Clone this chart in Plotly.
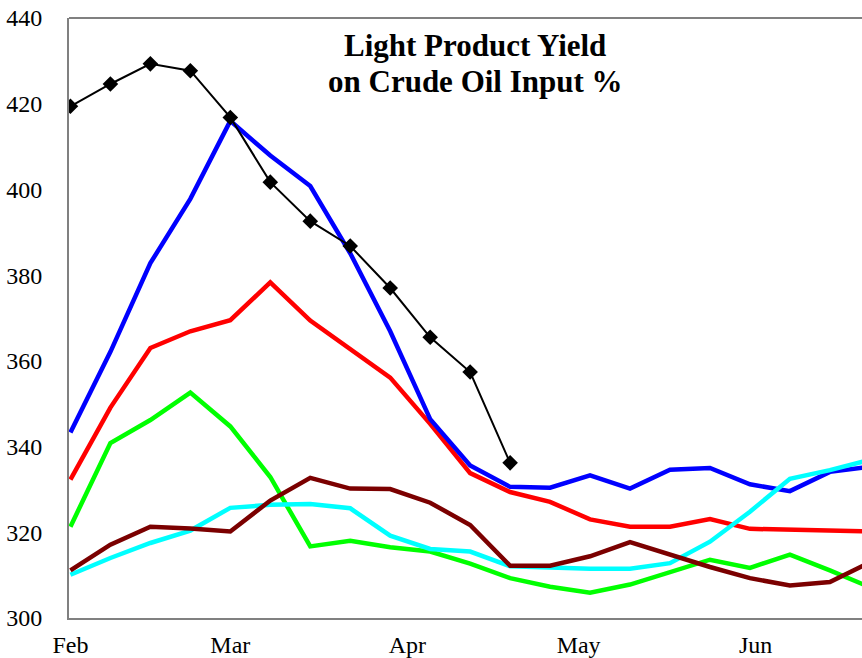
import pandas as pd
import plotly.graph_objs as go

# weekly observations starting Feb 1
weeks = pd.date_range("2015-02-01", periods=21, freq="7D")
month_ticks = ["2015-02-01", "2015-03-01", "2015-04-01", "2015-05-01", "2015-06-01"]
month_labels = ["Feb", "Mar", "Apr", "May", "Jun"]
y_ticks = [300, 320, 340, 360, 380, 400, 420, 440]

red = [332.3, 349.1, 363.0, 366.9, 369.5, 378.3, 369.4, 362.7, 356.1, 345.3, 333.8,
       329.4, 327.1, 323.0, 321.3, 321.3, 323.1, 320.8, 320.6, 320.2, 320.2]
blue = [343.3, 362.1, 382.8, 397.8, 416.0, 407.9, 400.8, 385.1, 366.9, 346.4, 335.6,
        330.6, 330.4, 333.3, 330.2, 334.6, 335.0, 331.2, 329.6, 334.1, 335.3]
green = [321.3, 340.8, 346.2, 352.6, 344.7, 332.9, 316.7, 318.0, 316.5, 315.5, 312.7,
         309.3, 307.3, 305.9, 307.8, 310.7, 313.6, 311.7, 314.8, 311.1, 307.2]
cyan = [310.1, 314.0, 317.5, 320.4, 325.7, 326.4, 326.6, 325.6, 319.2, 316.1, 315.5,
        312.1, 311.8, 311.5, 311.5, 312.8, 317.8, 324.8, 332.5, 334.5, 336.9]
maroon = [311.1, 317.1, 321.3, 320.9, 320.2, 327.4, 332.7, 330.2, 330.1, 326.9, 321.7,
          312.2, 312.2, 314.4, 317.7, 314.8, 311.9, 309.3, 307.6, 308.4, 313.0]
current = [419.4, 424.6, 429.3, 427.7, 416.8, 401.7, 392.6, 386.8, 377.0, 365.5, 357.4, 336.2]

fig = go.Figure()
for vals, col in [(red, "#ff0000"), (blue, "#0000ff"), (green, "#00ff00"),
                  (cyan, "#00ffff"), (maroon, "#7b0000")]:
    fig.add_trace(go.Scatter(x=weeks, y=vals, mode="lines", line=dict(color=col, width=4.5),
                             showlegend=False, hoverinfo="skip"))

fig.add_trace(go.Scatter(x=weeks[:len(current)], y=current, mode="lines+markers",
                         line=dict(color="black", width=2),
                         marker=dict(symbol="diamond", size=12, color="black"),
                         showlegend=False))

font_family = "Liberation Serif, Times New Roman, serif"
title_font = dict(family=font_family, size=31, color="black")
fig.update_layout(
    width=862, height=658,
    margin=dict(l=69, r=0, t=18, b=36),
    plot_bgcolor="white", paper_bgcolor="white",
    font=dict(family=font_family, size=24, color="black"),
    xaxis=dict(range=["2015-01-31 18:00", "2015-06-19 15:00"], tickvals=month_ticks,
               ticktext=month_labels, showgrid=False, zeroline=False,
               showline=True, linecolor="#808080", linewidth=2, ticks="", ticklabelstandoff=4),
    yaxis=dict(range=[300, 440], tickvals=y_ticks, showgrid=False, zeroline=False,
               showline=True, linecolor="#808080", linewidth=2, ticks="", ticklabelstandoff=20),
    shapes=[dict(type="line", xref="paper", yref="paper", x0=0, x1=1, y0=1, y1=1,
                 line=dict(color="#808080", width=2))],
    annotations=[
        dict(text="<b>Light Product Yield</b>", xref="paper", yref="paper", x=0.5126, y=0.955,
             xanchor="center", yanchor="middle", showarrow=False, font=title_font),
        dict(text="<b>on Crude Oil Input %</b>", xref="paper", yref="paper", x=0.5126, y=0.894,
             xanchor="center", yanchor="middle", showarrow=False, font=title_font),
    ],
)

fig.write_html("out.html", config={"displayModeBar": False},
               post_script="document.body.style.margin='0';")
